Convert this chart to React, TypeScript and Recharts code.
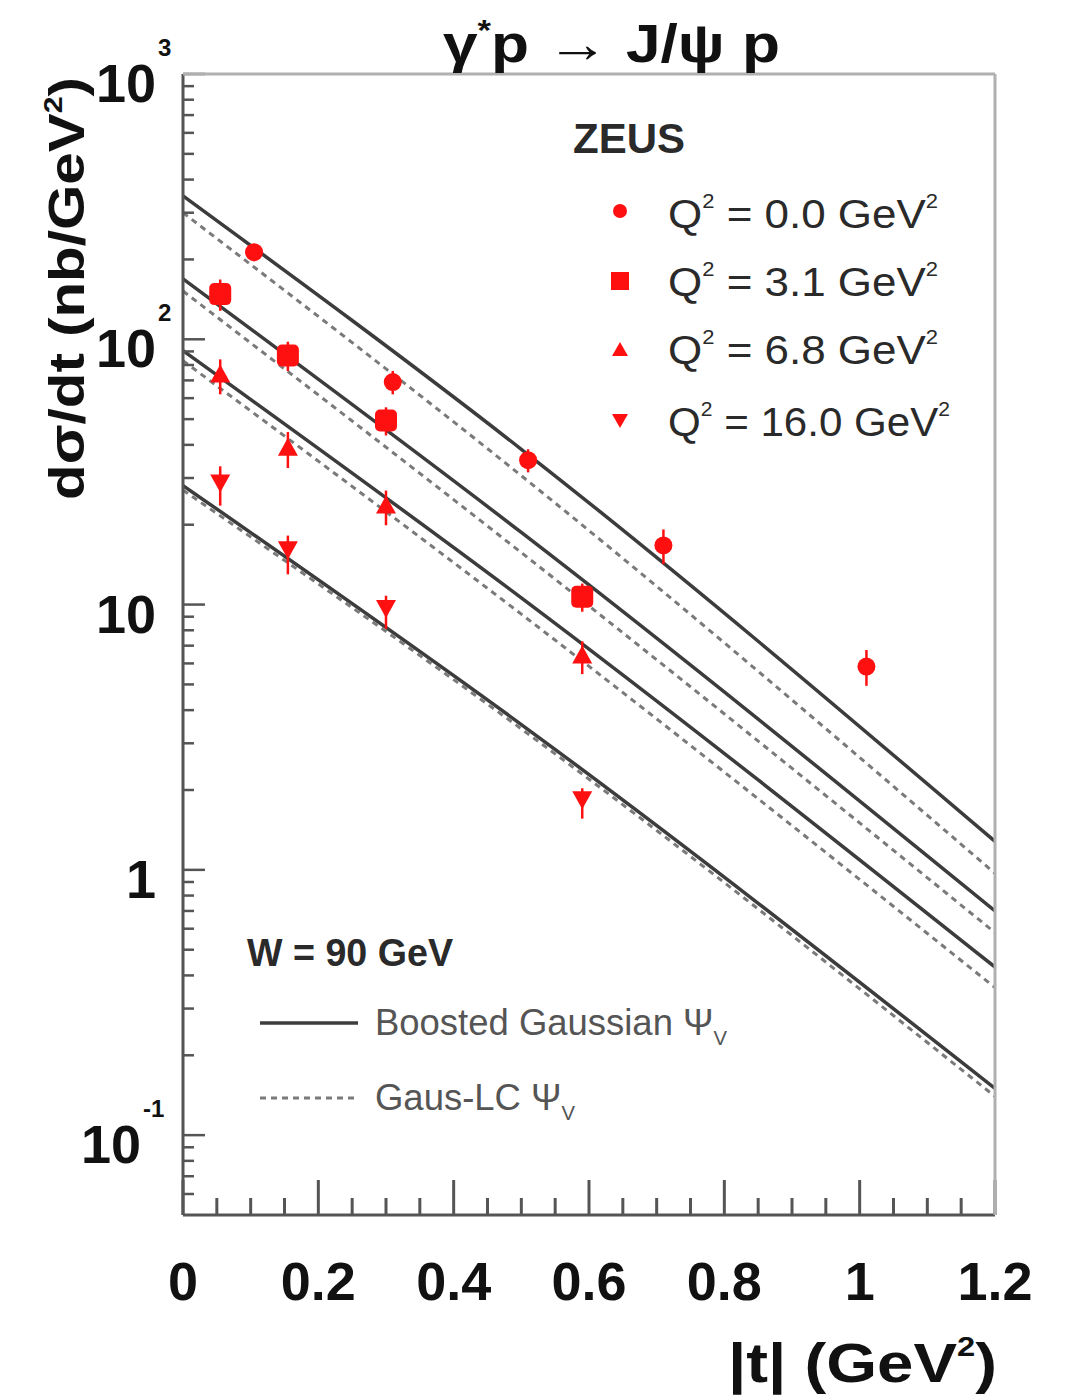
import React from 'react'
import { ComposedChart, Line, Scatter, ErrorBar, XAxis, YAxis } from 'recharts'

const FONT = '"Liberation Sans", Arial, Helvetica, sans-serif'

// ZEUS data points, |t| (GeV^2) and dsigma/dt (nb/GeV^2), errors as [down, up]
const tQ0 = [0.105, 0.31, 0.51, 0.71, 1.01]
const xsQ0 = [213, 69, 35, 16.7, 5.84]
const errQ0 = [[16, 16], [7, 7], [3.5, 3.5], [2.5, 2.5], [0.9, 0.9]]

const tQ31 = [0.055, 0.155, 0.3, 0.59]
const xsQ31 = [148, 86.9, 49.4, 10.7]
const errQ31 = [[20, 20], [11, 11], [6, 6], [1.3, 1.3]]

const tQ68 = [0.055, 0.155, 0.3, 0.59]
const xsQ68 = [73, 38.7, 23.4, 6.37]
const errQ68 = [[11, 11], [6, 6], [3.5, 3.5], [0.9, 0.9]]

const tQ16 = [0.055, 0.155, 0.3, 0.59]
const xsQ16 = [29.1, 16.3, 9.8, 1.86]
const errQ16 = [[5.5, 4.1], [3.3, 1.9], [1.7, 1.0], [0.3, 0.17]]

// model curves read at |t| = 0, 0.5, 1.2
const curveT = [0, 0.5, 1.2]
const boostedQ0 = [347, 38.5, 1.28]
const boostedQ31 = [169, 18.7, 0.7]
const boostedQ68 = [90.6, 10.6, 0.43]
const boostedQ16 = [28.1, 3.53, 0.15]
const gausLcQ0 = [300, 30.6, 0.97]
const gausLcQ31 = [152, 15.7, 0.58]
const gausLcQ68 = [83, 9.2, 0.36]
const gausLcQ16 = [27, 3.4, 0.14]

const xMajorTicks = [0, 0.2, 0.4, 0.6, 0.8, 1, 1.2]
const xTickLabels = ['0', '0.2', '0.4', '0.6', '0.8', '1', '1.2']
const xMinorTicks = [0.05, 0.1, 0.15, 0.25, 0.3, 0.35, 0.45, 0.5, 0.55, 0.65, 0.7, 0.75, 0.85, 0.9, 0.95, 1.05, 1.1, 1.15]

const yMajorTicks = [0.1, 1, 10, 100, 1000]
const yTickLabels = [['10', '-1'], ['1', ''], ['10', ''], ['10', '2'], ['10', '3']]
const yMinorTicks = [0.06, 0.07, 0.08, 0.09, 0.2, 0.3, 0.4, 0.5, 0.6, 0.7, 0.8, 0.9, 2, 3, 4, 5, 6, 7, 8, 9, 20, 30, 40, 50, 60, 70, 80, 90, 200, 300, 400, 500, 600, 700, 800, 900]

const toPoints = (ts: number[], vs: number[], errs?: number[][]) =>
  ts.map((t, i) => ({ t, v: vs[i], err: errs ? errs[i] : undefined }))

const RED = '#ff1010'

const CircleMark = ({ cx, cy }: any) => <circle cx={cx} cy={cy} r={9} fill={RED} />
const SquareMark = ({ cx, cy }: any) => <rect x={cx - 11} y={cy - 11} width={22} height={22} rx={5} fill={RED} />
const UpMark = ({ cx, cy }: any) => (
  <polygon points={`${cx},${cy - 11} ${cx + 10},${cy + 7} ${cx - 10},${cy + 7}`} fill={RED} />
)
const DownMark = ({ cx, cy }: any) => (
  <polygon points={`${cx},${cy + 11} ${cx + 10},${cy - 7} ${cx - 10},${cy - 7}`} fill={RED} />
)

const XTick = (props: any) => {
  const { x, y, payload } = props
  const i = xMajorTicks.findIndex(v => Math.abs(v - payload.value) < 1e-6)
  const major = i >= 0
  return (
    <g>
      <line x1={x} y1={y} x2={x} y2={y - (major ? 35 : 17)} stroke="#555" strokeWidth={3} />
      {major && (
        <text x={x} y={y + 85} textAnchor="middle" fontSize={54} fontWeight="bold" fill="#111" fontFamily={FONT}>
          {xTickLabels[i]}
        </text>
      )}
    </g>
  )
}

const YTick = (props: any) => {
  const { x, y, payload } = props
  const i = yMajorTicks.findIndex(v => Math.abs(v - payload.value) / v < 1e-6)
  const major = i >= 0
  let label = null
  if (major) {
    const [base, exp] = yTickLabels[i]
    const end = exp.length > 1 ? x - 42 : x - 27
    label = (
      <g fontFamily={FONT} fontWeight="bold" fill="#111">
        <text x={end} y={y + 28} textAnchor="end" fontSize={54}>{base}</text>
        {exp && <text x={end + 2} y={y - 18} fontSize={24}>{exp}</text>}
      </g>
    )
  }
  return (
    <g>
      <line x1={x} y1={y} x2={x + (major ? 22 : 11)} y2={y} stroke="#555" strokeWidth={2.5} />
      {label}
    </g>
  )
}

const solid = { stroke: '#3c3c3c', strokeWidth: 3.5 }
const dotted = { stroke: '#7a7a7a', strokeWidth: 3, strokeDasharray: '6 5' }

const Overlay = () => (
  <svg width={1071} height={1400} style={{ position: 'absolute', left: 0, top: 0, pointerEvents: 'none' }}>
    <line x1={183} y1={74} x2={995} y2={74} stroke="#b0b0b0" strokeWidth={3} />
    <line x1={995} y1={74} x2={995} y2={1215} stroke="#b0b0b0" strokeWidth={3} />
    <g fontFamily={FONT} fill="#111">
      <text x={443} y={62} fontSize={54} fontWeight="bold" textLength={337} lengthAdjust="spacingAndGlyphs">
        γ<tspan fontSize={30} dy={-22}>*</tspan><tspan dy={22}>p → J/ψ p</tspan>
      </text>
      <text x={84} y={500} transform="rotate(-90, 84, 500)" fontSize={50} fontWeight="bold" textLength={423} lengthAdjust="spacingAndGlyphs">
        dσ/dt  (nb/GeV<tspan fontSize={26} dy={-22}>2</tspan><tspan dy={22}>)</tspan>
      </text>
      <text x={728} y={1382} fontSize={56} fontWeight="bold" textLength={269} lengthAdjust="spacingAndGlyphs">
        |t|   (GeV<tspan fontSize={28} dy={-26}>2</tspan><tspan dy={26}>)</tspan>
      </text>
    </g>
    <g fontFamily={FONT} fill="#2a2a2a">
      <text x={573} y={153} fontSize={42} fontWeight="bold" textLength={112} lengthAdjust="spacingAndGlyphs">ZEUS</text>
      <circle cx={620} cy={211} r={7} fill={RED} />
      <rect x={611} y={272} width={18} height={18} fill={RED} />
      <polygon points="620,342 628,356 612,356" fill={RED} />
      <polygon points="620,428 628,414 612,414" fill={RED} />
      {[['0.0', 228, 270], ['3.1', 296, 270], ['6.8', 364, 270], ['16.0', 436, 282]].map(([v, y, w]) => (
        <text key={v as string} x={668} y={y as number} fontSize={40} textLength={w as number} lengthAdjust="spacingAndGlyphs">
          Q<tspan fontSize={20} dy={-20}>2</tspan><tspan dy={20}> = {v} GeV</tspan><tspan fontSize={20} dy={-20}>2</tspan>
        </text>
      ))}
      <text x={247} y={966} fontSize={38} fontWeight="bold" textLength={206} lengthAdjust="spacingAndGlyphs">W = 90 GeV</text>
      <line x1={260} y1={1023} x2={358} y2={1023} {...solid} />
      <line x1={260} y1={1098} x2={358} y2={1098} {...dotted} />
      <g fill="#555">
        <text x={375} y={1035} fontSize={36} textLength={352} lengthAdjust="spacingAndGlyphs">
          Boosted Gaussian Ψ<tspan fontSize={20} dy={10}>V</tspan>
        </text>
        <text x={375} y={1110} fontSize={36} textLength={200} lengthAdjust="spacingAndGlyphs">
          Gaus-LC Ψ<tspan fontSize={20} dy={10}>V</tspan>
        </text>
      </g>
    </g>
  </svg>
)

export default function App() {
  const curves = [
    { d: boostedQ0, s: solid },
    { d: boostedQ31, s: solid },
    { d: boostedQ68, s: solid },
    { d: boostedQ16, s: solid },
    { d: gausLcQ0, s: dotted },
    { d: gausLcQ31, s: dotted },
    { d: gausLcQ68, s: dotted },
    { d: gausLcQ16, s: dotted },
  ]
  const sets = [
    { pts: toPoints(tQ0, xsQ0, errQ0), shape: CircleMark },
    { pts: toPoints(tQ31, xsQ31, errQ31), shape: SquareMark },
    { pts: toPoints(tQ68, xsQ68, errQ68), shape: UpMark },
    { pts: toPoints(tQ16, xsQ16, errQ16), shape: DownMark },
  ]
  return (
    <div style={{ position: 'absolute', left: 0, top: 0, width: 1071, height: 1400, background: '#fff' }}>
      <ComposedChart width={1071} height={1400} margin={{ top: 74, right: 76, bottom: 0, left: 0 }}>
        <XAxis
          dataKey="t"
          type="number"
          domain={[0, 1.2]}
          ticks={[...xMajorTicks, ...xMinorTicks]}
          interval={0}
          height={185}
          tickSize={0}
          tickMargin={0}
          tick={<XTick />}
          axisLine={{ stroke: '#555', strokeWidth: 3 }}
          allowDataOverflow
        />
        <YAxis
          dataKey="v"
          type="number"
          scale="log"
          domain={[0.05, 1000]}
          ticks={[...yMajorTicks, ...yMinorTicks]}
          interval={0}
          width={183}
          tickSize={0}
          tickMargin={0}
          tick={<YTick />}
          axisLine={{ stroke: '#555', strokeWidth: 3 }}
          allowDataOverflow
        />
        {curves.map((c, i) => (
          <Line
            key={`curve-${i}`}
            data={toPoints(curveT, c.d)}
            dataKey="v"
            type="monotone"
            dot={false}
            activeDot={false}
            {...c.s}
            isAnimationActive={false}
          />
        ))}
        {sets.map((s, i) => (
          <Scatter key={`set-${i}`} data={s.pts} dataKey="v" shape={s.shape} isAnimationActive={false}>
            <ErrorBar dataKey="err" direction="y" width={0} stroke={RED} strokeWidth={2.5} />
          </Scatter>
        ))}
      </ComposedChart>
      <Overlay />
    </div>
  )
}
